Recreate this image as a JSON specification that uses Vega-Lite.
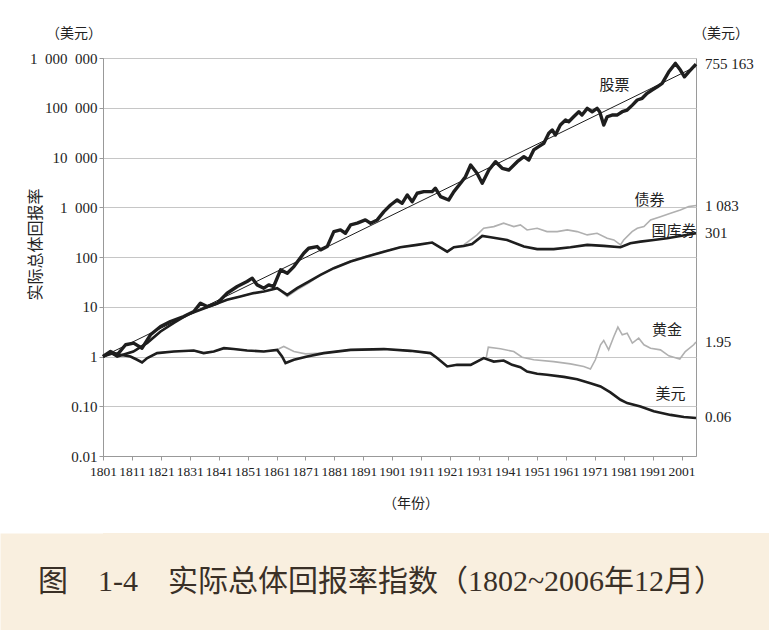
{
  "$schema": "https://vega.github.io/schema/vega-lite/v6.json",
  "background": "white",
  "padding": {"left": 0, "top": 26, "right": 0, "bottom": 0},
  "columns": 1,
  "spacing": 22,
  "datasets": {
    "returns": [
      {"series": "股票", "year": 1801, "value": 1.0},
      {"series": "股票", "year": 1803.6, "value": 1.26},
      {"series": "股票", "year": 1805.9, "value": 1.08},
      {"series": "股票", "year": 1808.8, "value": 1.72},
      {"series": "股票", "year": 1811.6, "value": 1.86},
      {"series": "股票", "year": 1814.5, "value": 1.47},
      {"series": "股票", "year": 1817.4, "value": 2.73},
      {"series": "股票", "year": 1820.9, "value": 4.0},
      {"series": "股票", "year": 1824.3, "value": 5.05},
      {"series": "股票", "year": 1828.9, "value": 6.36},
      {"series": "股票", "year": 1832.4, "value": 8.01},
      {"series": "股票", "year": 1834.7, "value": 11.8},
      {"series": "股票", "year": 1837.0, "value": 10.1},
      {"series": "股票", "year": 1840.5, "value": 11.8},
      {"series": "股票", "year": 1843.9, "value": 18.7},
      {"series": "股票", "year": 1847.4, "value": 25.5},
      {"series": "股票", "year": 1850.8, "value": 32.1},
      {"series": "股票", "year": 1852.6, "value": 37.5},
      {"series": "股票", "year": 1854.3, "value": 27.5},
      {"series": "股票", "year": 1856.6, "value": 23.6},
      {"series": "股票", "year": 1858.3, "value": 27.5},
      {"series": "股票", "year": 1860.0, "value": 25.5},
      {"series": "股票", "year": 1862.4, "value": 55.1},
      {"series": "股票", "year": 1864.7, "value": 47.3},
      {"series": "股票", "year": 1867.0, "value": 64.1},
      {"series": "股票", "year": 1870.4, "value": 119},
      {"series": "股票", "year": 1872.1, "value": 150},
      {"series": "股票", "year": 1875.0, "value": 162},
      {"series": "股票", "year": 1876.2, "value": 139},
      {"series": "股票", "year": 1878.5, "value": 162},
      {"series": "股票", "year": 1880.8, "value": 324},
      {"series": "股票", "year": 1883.1, "value": 350},
      {"series": "股票", "year": 1884.8, "value": 300},
      {"series": "股票", "year": 1886.6, "value": 442},
      {"series": "股票", "year": 1888.9, "value": 478},
      {"series": "股票", "year": 1891.7, "value": 556},
      {"series": "股票", "year": 1893.5, "value": 478},
      {"series": "股票", "year": 1895.8, "value": 556},
      {"series": "股票", "year": 1898.1, "value": 817},
      {"series": "股票", "year": 1900.4, "value": 1110},
      {"series": "股票", "year": 1902.7, "value": 1400},
      {"series": "股票", "year": 1904.4, "value": 1200},
      {"series": "股票", "year": 1906.2, "value": 1770},
      {"series": "股票", "year": 1907.9, "value": 1290},
      {"series": "股票", "year": 1909.6, "value": 1910},
      {"series": "股票", "year": 1911.9, "value": 2060},
      {"series": "股票", "year": 1914.8, "value": 2060},
      {"series": "股票", "year": 1915.9, "value": 2410},
      {"series": "股票", "year": 1917.7, "value": 1630},
      {"series": "股票", "year": 1920.5, "value": 1400},
      {"series": "股票", "year": 1922.3, "value": 2060},
      {"series": "股票", "year": 1924.6, "value": 3030},
      {"series": "股票", "year": 1926.3, "value": 4110},
      {"series": "股票", "year": 1928.1, "value": 7060},
      {"series": "股票", "year": 1930.3, "value": 4820},
      {"series": "股票", "year": 1932.1, "value": 3030},
      {"series": "股票", "year": 1934.4, "value": 5610},
      {"series": "股票", "year": 1936.7, "value": 8240},
      {"series": "股票", "year": 1939.0, "value": 6070},
      {"series": "股票", "year": 1941.3, "value": 5610},
      {"series": "股票", "year": 1944.2, "value": 8240},
      {"series": "股票", "year": 1946.5, "value": 10400},
      {"series": "股票", "year": 1948.2, "value": 8910},
      {"series": "股票", "year": 1949.9, "value": 14200},
      {"series": "股票", "year": 1951.6, "value": 16500},
      {"series": "股票", "year": 1953.4, "value": 19300},
      {"series": "股票", "year": 1955.1, "value": 30600},
      {"series": "股票", "year": 1956.3, "value": 35700},
      {"series": "股票", "year": 1957.4, "value": 28300},
      {"series": "股票", "year": 1959.1, "value": 45000},
      {"series": "股票", "year": 1960.9, "value": 56700},
      {"series": "股票", "year": 1962.0, "value": 52400},
      {"series": "股票", "year": 1963.7, "value": 65900},
      {"series": "股票", "year": 1965.5, "value": 83200},
      {"series": "股票", "year": 1966.6, "value": 71300},
      {"series": "股票", "year": 1968.4, "value": 97200},
      {"series": "股票", "year": 1970.1, "value": 83200},
      {"series": "股票", "year": 1971.8, "value": 97200},
      {"series": "股票", "year": 1972.7, "value": 83200},
      {"series": "股票", "year": 1974.1, "value": 45000},
      {"series": "股票", "year": 1975.3, "value": 65900},
      {"series": "股票", "year": 1977.0, "value": 71300},
      {"series": "股票", "year": 1978.7, "value": 71300},
      {"series": "股票", "year": 1980.5, "value": 83200},
      {"series": "股票", "year": 1982.2, "value": 89900},
      {"series": "股票", "year": 1984.0, "value": 113000},
      {"series": "股票", "year": 1985.7, "value": 143000},
      {"series": "股票", "year": 1987.4, "value": 155000},
      {"series": "股票", "year": 1989.1, "value": 195000},
      {"series": "股票", "year": 1990.8, "value": 227000},
      {"series": "股票", "year": 1992.6, "value": 264000},
      {"series": "股票", "year": 1994.3, "value": 309000},
      {"series": "股票", "year": 1996.6, "value": 528000},
      {"series": "股票", "year": 1998.9, "value": 779000},
      {"series": "股票", "year": 2000.6, "value": 571000},
      {"series": "股票", "year": 2002.0, "value": 419000},
      {"series": "股票", "year": 2003.5, "value": 528000},
      {"series": "股票", "year": 2006, "value": 755163},

      {"series": "国库券", "year": 1801, "value": 1.0},
      {"series": "国库券", "year": 1803.6, "value": 1.19},
      {"series": "国库券", "year": 1805.9, "value": 1.0},
      {"series": "国库券", "year": 1811.5, "value": 1.26},
      {"series": "国库券", "year": 1816.3, "value": 1.88},
      {"series": "国库券", "year": 1820.9, "value": 3.18},
      {"series": "国库券", "year": 1825.5, "value": 4.75},
      {"series": "国库券", "year": 1830.1, "value": 6.88},
      {"series": "国库券", "year": 1834.7, "value": 8.67},
      {"series": "国库券", "year": 1839.3, "value": 10.9},
      {"series": "国库券", "year": 1843.9, "value": 13.8},
      {"series": "国库券", "year": 1848.5, "value": 16.0},
      {"series": "国库券", "year": 1853.1, "value": 18.8},
      {"series": "国库券", "year": 1856.6, "value": 20.2},
      {"series": "国库券", "year": 1861.2, "value": 23.6},
      {"series": "国库券", "year": 1864.7, "value": 17.3},
      {"series": "国库券", "year": 1868.1, "value": 23.6},
      {"series": "国库券", "year": 1872.1, "value": 32.1},
      {"series": "国库券", "year": 1876.2, "value": 43.7},
      {"series": "国库券", "year": 1880.8, "value": 59.6},
      {"series": "国库券", "year": 1886.6, "value": 80.9},
      {"series": "国库券", "year": 1892.3, "value": 102},
      {"series": "国库券", "year": 1898.1, "value": 128},
      {"series": "国库券", "year": 1903.8, "value": 157},
      {"series": "国库券", "year": 1909.6, "value": 175},
      {"series": "国库券", "year": 1914.8, "value": 195},
      {"series": "国库券", "year": 1917.1, "value": 162},
      {"series": "国库券", "year": 1920.0, "value": 128},
      {"series": "国库券", "year": 1922.3, "value": 157},
      {"series": "国库券", "year": 1925.7, "value": 167},
      {"series": "国库券", "year": 1928.6, "value": 183},
      {"series": "国库券", "year": 1932.1, "value": 265},
      {"series": "国库券", "year": 1935.0, "value": 250},
      {"series": "国库券", "year": 1940.7, "value": 220},
      {"series": "国库券", "year": 1946.5, "value": 162},
      {"series": "国库券", "year": 1951.1, "value": 144},
      {"series": "国库券", "year": 1956.8, "value": 144},
      {"series": "国库券", "year": 1962.6, "value": 157},
      {"series": "国库券", "year": 1968.4, "value": 175},
      {"series": "国库券", "year": 1974.1, "value": 167},
      {"series": "国库券", "year": 1979.9, "value": 157},
      {"series": "国库券", "year": 1983.3, "value": 189},
      {"series": "国库券", "year": 1986.8, "value": 204},
      {"series": "国库券", "year": 1991.4, "value": 220},
      {"series": "国库券", "year": 1996.0, "value": 239},
      {"series": "国库券", "year": 2000.6, "value": 265},
      {"series": "国库券", "year": 2006, "value": 301},

      {"series": "债券", "year": 1801, "value": 1.0},
      {"series": "债券", "year": 1803.6, "value": 1.19},
      {"series": "债券", "year": 1805.9, "value": 1.0},
      {"series": "债券", "year": 1811.5, "value": 1.26},
      {"series": "债券", "year": 1816.3, "value": 1.88},
      {"series": "债券", "year": 1820.9, "value": 3.18},
      {"series": "债券", "year": 1825.5, "value": 4.75},
      {"series": "债券", "year": 1830.1, "value": 6.88},
      {"series": "债券", "year": 1834.7, "value": 8.67},
      {"series": "债券", "year": 1839.3, "value": 10.9},
      {"series": "债券", "year": 1843.9, "value": 13.8},
      {"series": "债券", "year": 1848.5, "value": 16.0},
      {"series": "债券", "year": 1853.1, "value": 18.8},
      {"series": "债券", "year": 1856.6, "value": 20.2},
      {"series": "债券", "year": 1861.2, "value": 23.6},
      {"series": "债券", "year": 1864.7, "value": 16.0},
      {"series": "债券", "year": 1868.1, "value": 21.8},
      {"series": "债券", "year": 1872.1, "value": 29.8},
      {"series": "债券", "year": 1876.2, "value": 43.7},
      {"series": "债券", "year": 1880.8, "value": 61},
      {"series": "债券", "year": 1886.6, "value": 83},
      {"series": "债券", "year": 1892.3, "value": 105},
      {"series": "债券", "year": 1898.1, "value": 131},
      {"series": "债券", "year": 1903.8, "value": 159},
      {"series": "债券", "year": 1909.6, "value": 175},
      {"series": "债券", "year": 1914.8, "value": 195},
      {"series": "债券", "year": 1917.1, "value": 160},
      {"series": "债券", "year": 1920.0, "value": 125},
      {"series": "债券", "year": 1922.3, "value": 157},
      {"series": "债券", "year": 1925.7, "value": 175},
      {"series": "债券", "year": 1930.3, "value": 278},
      {"series": "债券", "year": 1932.6, "value": 379},
      {"series": "债券", "year": 1936.1, "value": 408},
      {"series": "债券", "year": 1939.5, "value": 478},
      {"series": "债券", "year": 1943.0, "value": 408},
      {"series": "债券", "year": 1945.3, "value": 442},
      {"series": "债券", "year": 1947.6, "value": 350},
      {"series": "债券", "year": 1951.1, "value": 379},
      {"series": "债券", "year": 1954.5, "value": 324},
      {"series": "债券", "year": 1958.0, "value": 324},
      {"series": "债券", "year": 1961.5, "value": 350},
      {"series": "债券", "year": 1964.9, "value": 324},
      {"series": "债券", "year": 1968.4, "value": 278},
      {"series": "债券", "year": 1971.8, "value": 300},
      {"series": "债券", "year": 1975.3, "value": 239},
      {"series": "债券", "year": 1977.6, "value": 220},
      {"series": "债券", "year": 1979.9, "value": 175},
      {"series": "债券", "year": 1981.0, "value": 220},
      {"series": "债券", "year": 1983.9, "value": 324},
      {"series": "债券", "year": 1985.7, "value": 379},
      {"series": "债券", "year": 1988.0, "value": 408},
      {"series": "债券", "year": 1990.3, "value": 556},
      {"series": "债券", "year": 1993.7, "value": 647},
      {"series": "债券", "year": 1997.2, "value": 758},
      {"series": "债券", "year": 2000.6, "value": 883},
      {"series": "债券", "year": 2003.5, "value": 1030},
      {"series": "债券", "year": 2006, "value": 1083},

      {"series": "美元", "year": 1801, "value": 1.0},
      {"series": "美元", "year": 1804.7, "value": 1.17},
      {"series": "美元", "year": 1807.0, "value": 1.08},
      {"series": "美元", "year": 1810.5, "value": 1.0},
      {"series": "美元", "year": 1812.8, "value": 0.86},
      {"series": "美元", "year": 1814.5, "value": 0.76},
      {"series": "美元", "year": 1816.3, "value": 0.93},
      {"series": "美元", "year": 1819.7, "value": 1.17},
      {"series": "美元", "year": 1825.5, "value": 1.26},
      {"series": "美元", "year": 1832.4, "value": 1.32},
      {"series": "美元", "year": 1835.8, "value": 1.17},
      {"series": "美元", "year": 1839.3, "value": 1.26},
      {"series": "美元", "year": 1842.8, "value": 1.47},
      {"series": "美元", "year": 1846.2, "value": 1.41},
      {"series": "美元", "year": 1850.8, "value": 1.32},
      {"series": "美元", "year": 1856.6, "value": 1.26},
      {"series": "美元", "year": 1861.2, "value": 1.36},
      {"series": "美元", "year": 1862.9, "value": 1.0},
      {"series": "美元", "year": 1864.1, "value": 0.74},
      {"series": "美元", "year": 1867.0, "value": 0.86},
      {"series": "美元", "year": 1871.6, "value": 1.0},
      {"series": "美元", "year": 1877.3, "value": 1.17},
      {"series": "美元", "year": 1886.6, "value": 1.36},
      {"series": "美元", "year": 1898.1, "value": 1.41},
      {"series": "美元", "year": 1907.3, "value": 1.30},
      {"series": "美元", "year": 1914.2, "value": 1.17},
      {"series": "美元", "year": 1916.5, "value": 0.93},
      {"series": "美元", "year": 1920.0, "value": 0.63},
      {"series": "美元", "year": 1923.4, "value": 0.68},
      {"series": "美元", "year": 1928.1, "value": 0.68},
      {"series": "美元", "year": 1932.6, "value": 0.93},
      {"series": "美元", "year": 1936.1, "value": 0.79},
      {"series": "美元", "year": 1939.5, "value": 0.83},
      {"series": "美元", "year": 1942.4, "value": 0.68},
      {"series": "美元", "year": 1945.3, "value": 0.61},
      {"series": "美元", "year": 1947.6, "value": 0.50},
      {"series": "美元", "year": 1951.1, "value": 0.45},
      {"series": "美元", "year": 1954.5, "value": 0.43},
      {"series": "美元", "year": 1960.3, "value": 0.39},
      {"series": "美元", "year": 1964.9, "value": 0.35},
      {"series": "美元", "year": 1969.5, "value": 0.29},
      {"series": "美元", "year": 1973.0, "value": 0.25},
      {"series": "美元", "year": 1976.4, "value": 0.19},
      {"series": "美元", "year": 1979.9, "value": 0.135},
      {"series": "美元", "year": 1982.2, "value": 0.116},
      {"series": "美元", "year": 1986.8, "value": 0.099},
      {"series": "美元", "year": 1991.4, "value": 0.079},
      {"series": "美元", "year": 1997.2, "value": 0.067},
      {"series": "美元", "year": 2001.8, "value": 0.061},
      {"series": "美元", "year": 2006, "value": 0.058},

      {"series": "黄金", "year": 1801, "value": 1.0},
      {"series": "黄金", "year": 1804.7, "value": 1.17},
      {"series": "黄金", "year": 1807.0, "value": 1.08},
      {"series": "黄金", "year": 1810.5, "value": 1.0},
      {"series": "黄金", "year": 1812.8, "value": 0.86},
      {"series": "黄金", "year": 1814.5, "value": 0.76},
      {"series": "黄金", "year": 1816.3, "value": 0.93},
      {"series": "黄金", "year": 1819.7, "value": 1.17},
      {"series": "黄金", "year": 1825.5, "value": 1.26},
      {"series": "黄金", "year": 1832.4, "value": 1.32},
      {"series": "黄金", "year": 1835.8, "value": 1.17},
      {"series": "黄金", "year": 1839.3, "value": 1.26},
      {"series": "黄金", "year": 1842.8, "value": 1.47},
      {"series": "黄金", "year": 1846.2, "value": 1.41},
      {"series": "黄金", "year": 1850.8, "value": 1.32},
      {"series": "黄金", "year": 1856.6, "value": 1.26},
      {"series": "黄金", "year": 1861.2, "value": 1.36},
      {"series": "黄金", "year": 1862.0, "value": 1.45},
      {"series": "黄金", "year": 1863.5, "value": 1.59},
      {"series": "黄金", "year": 1867.0, "value": 1.26},
      {"series": "黄金", "year": 1871.0, "value": 1.13},
      {"series": "黄金", "year": 1877.3, "value": 1.17},
      {"series": "黄金", "year": 1886.6, "value": 1.36},
      {"series": "黄金", "year": 1898.1, "value": 1.41},
      {"series": "黄金", "year": 1907.3, "value": 1.30},
      {"series": "黄金", "year": 1914.2, "value": 1.17},
      {"series": "黄金", "year": 1916.5, "value": 0.93},
      {"series": "黄金", "year": 1920.0, "value": 0.63},
      {"series": "黄金", "year": 1923.4, "value": 0.68},
      {"series": "黄金", "year": 1928.1, "value": 0.68},
      {"series": "黄金", "year": 1932.6, "value": 0.93},
      {"series": "黄金", "year": 1933.5, "value": 0.95},
      {"series": "黄金", "year": 1934.2, "value": 1.54},
      {"series": "黄金", "year": 1938.4, "value": 1.43},
      {"series": "黄金", "year": 1943.0, "value": 1.26},
      {"series": "黄金", "year": 1945.9, "value": 0.97},
      {"series": "黄金", "year": 1949.9, "value": 0.86},
      {"series": "黄金", "year": 1956.8, "value": 0.79},
      {"series": "黄金", "year": 1962.6, "value": 0.71},
      {"series": "黄金", "year": 1967.2, "value": 0.63},
      {"series": "黄金", "year": 1969.5, "value": 0.56},
      {"series": "黄金", "year": 1971.2, "value": 0.86},
      {"series": "黄金", "year": 1973.0, "value": 1.72},
      {"series": "黄金", "year": 1974.1, "value": 2.10},
      {"series": "黄金", "year": 1975.8, "value": 1.36},
      {"series": "黄金", "year": 1977.6, "value": 2.52},
      {"series": "黄金", "year": 1979.0, "value": 3.89},
      {"series": "黄金", "year": 1980.5, "value": 2.73},
      {"series": "黄金", "year": 1982.2, "value": 2.95},
      {"series": "黄金", "year": 1984.0, "value": 1.86},
      {"series": "黄金", "year": 1986.2, "value": 2.34},
      {"series": "黄金", "year": 1988.0, "value": 1.72},
      {"series": "黄金", "year": 1990.3, "value": 1.47},
      {"series": "黄金", "year": 1993.7, "value": 1.36},
      {"series": "黄金", "year": 1996.6, "value": 1.03},
      {"series": "黄金", "year": 1998.3, "value": 0.97},
      {"series": "黄金", "year": 2000.4, "value": 0.89},
      {"series": "黄金", "year": 2002.3, "value": 1.26},
      {"series": "黄金", "year": 2005.2, "value": 1.72},
      {"series": "黄金", "year": 2006, "value": 1.95},

      {"series": "趋势线", "year": 1801, "value": 1.0},
      {"series": "趋势线", "year": 2006, "value": 675000}
    ],
    "events": [{"year": 1871}, {"year": 1926}],
    "seriesNames": [
      {"label": "股票", "year": 1977.8, "value": 292000},
      {"label": "债券", "year": 1989.9, "value": 1400},
      {"label": "国库券", "year": 1998.4, "value": 327},
      {"label": "黄金", "year": 1996.0, "value": 3.44},
      {"label": "美元", "year": 1997.2, "value": 0.178}
    ],
    "endValues": [
      {"label": "755 163", "year": 2006, "value": 755163},
      {"label": "1 083", "year": 2006, "value": 1083},
      {"label": "301", "year": 2006, "value": 301},
      {"label": "1.95", "year": 2006, "value": 1.95},
      {"label": "0.06", "year": 2006, "value": 0.06}
    ],
    "units": [
      {"label": "（美元）", "side": "left", "year": 1801, "value": 3000000},
      {"label": "（美元）", "side": "right", "year": 2006, "value": 3000000}
    ]
  },
  "concat": [
    {
      "width": 593,
      "height": 398,
      "encoding": {
        "x": {
          "field": "year", "type": "quantitative",
          "scale": {"domain": [1801, 2006], "nice": false, "zero": false},
          "axis": {
            "values": [1801, 1811, 1821, 1831, 1841, 1851, 1861, 1871, 1881, 1891, 1901, 1911, 1921, 1931, 1941, 1951, 1961, 1971, 1981, 1991, 2001],
            "format": "d",
            "grid": false,
            "labelFont": "Times New Roman, Liberation Serif, serif", "labelFontSize": 13.5, "labelColor": "#222",
            "labelPadding": 4, "tickSize": 4, "tickColor": "#999", "domainColor": "#999",
            "labelOverlap": false, "labelFlush": false,
            "title": "（年份）",
            "titleFont": "Noto Sans CJK SC", "titleFontSize": 14, "titleFontWeight": "normal", "titleColor": "#222",
            "titleX": 307.5, "titleY": 47, "titleBaseline": "middle", "titleAlign": "center"
          }
        },
        "y": {
          "field": "value", "type": "quantitative",
          "scale": {"type": "log", "domain": [0.01, 1000000], "nice": false},
          "axis": {
            "values": [0.01, 0.1, 1, 10, 100, 1000, 10000, 100000, 1000000],
            "labelExpr": "datum.value < 0.05 ? '0.01' : datum.value < 0.5 ? '0.10' : datum.value < 5 ? '1' : datum.value < 50 ? '10' : datum.value < 500 ? '100' : datum.value < 5000 ? '1\u2002000' : datum.value < 50000 ? '10\u2002000' : datum.value < 500000 ? '100\u2002000' : '1\u2002000\u2002000'",
            "labelFont": "Times New Roman, Liberation Serif, serif", "labelFontSize": 15, "labelColor": "#222",
            "labelPadding": 2, "tickSize": 4, "tickColor": "#999", "domainColor": "#999",
            "grid": true, "gridColor": "#c6c6c6", "gridWidth": 1,
            "title": [" ", "实际总体回报率"],
            "titleFont": "Noto Sans CJK SC", "titleFontSize": 16, "titleFontWeight": "normal", "titleColor": "#222",
            "titleLineHeight": 27, "titleAngle": 270,
            "titleX": -102.5, "titleY": 186, "titleBaseline": "top", "titleAlign": "center"
          }
        }
      },
      "layer": [
        {
          "data": {"name": "returns"},
          "transform": [{"filter": {"field": "series", "oneOf": ["债券", "黄金"]}}],
          "mark": {"type": "line", "color": "#b0b0b0", "strokeWidth": 1.6},
          "encoding": {"detail": {"field": "series"}}
        },
        {
          "data": {"name": "returns"},
          "transform": [{"filter": {"field": "series", "oneOf": ["国库券", "美元"]}}],
          "mark": {"type": "line", "color": "#1e1e1e", "strokeWidth": 2.6},
          "encoding": {"detail": {"field": "series"}}
        },
        {
          "data": {"name": "returns"},
          "transform": [{"filter": {"field": "series", "equal": "趋势线"}}],
          "mark": {"type": "line", "color": "#1e1e1e", "strokeWidth": 1},
          "encoding": {"detail": {"field": "series"}}
        },
        {
          "data": {"name": "returns"},
          "transform": [{"filter": {"field": "series", "equal": "股票"}}],
          "mark": {"type": "line", "color": "#1e1e1e", "strokeWidth": 3.4, "strokeJoin": "round"},
          "encoding": {"detail": {"field": "series"}}
        },
        {
          "data": {"name": "events"},
          "mark": {"type": "rule", "color": "#1e1e1e", "strokeWidth": 2},
          "encoding": {"y": {"datum": 1000000}, "y2": {"datum": 0.01}}
        },
        {
          "data": {"name": "seriesNames"},
          "mark": {"type": "text", "font": "Noto Sans CJK SC", "fontSize": 15, "color": "#222", "align": "center", "baseline": "middle"},
          "encoding": {"text": {"field": "label"}}
        },
        {
          "data": {"name": "endValues"},
          "mark": {"type": "text", "font": "Times New Roman, Liberation Serif, serif", "fontSize": 15, "color": "#222", "align": "left", "baseline": "middle", "dx": 9},
          "encoding": {"text": {"field": "label"}}
        },
        {
          "data": {"name": "units"},
          "transform": [{"filter": {"field": "side", "equal": "left"}}],
          "mark": {"type": "text", "font": "Noto Sans CJK SC", "fontSize": 14, "color": "#222", "align": "right", "baseline": "middle", "dx": -1},
          "encoding": {"text": {"field": "label"}}
        },
        {
          "data": {"name": "units"},
          "transform": [{"filter": {"field": "side", "equal": "right"}}],
          "mark": {"type": "text", "font": "Noto Sans CJK SC", "fontSize": 14, "color": "#222", "align": "left", "baseline": "middle", "dx": -3},
          "encoding": {"text": {"field": "label"}}
        }
      ]
    },
    {
      "width": 666,
      "height": 97,
      "view": {"fill": "#F9EFDF", "stroke": null},
      "data": {"values": [{"caption": "图　1-4　实际总体回报率指数（1802~2006年12月）"}]},
      "mark": {"type": "text", "font": "Times New Roman, Liberation Serif, Noto Sans CJK SC, serif", "fontSize": 30, "color": "#3a3027", "align": "center", "baseline": "middle", "dx": -55},
      "encoding": {
        "text": {"field": "caption"},
        "y": {
          "datum": 0, "type": "quantitative",
          "scale": {"domain": [-1, 1]},
          "axis": {"domainWidth": 206, "domainColor": "#F9EFDF", "domainCap": "butt", "labels": false, "ticks": false, "grid": false, "title": null}
        }
      }
    }
  ],
  "config": {
    "view": {"stroke": "#9a9a9a", "strokeWidth": 1},
    "font": "Liberation Serif"
  }
}
